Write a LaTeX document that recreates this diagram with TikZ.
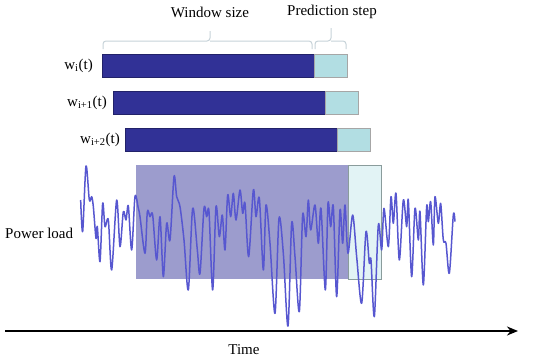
\documentclass[tikz,border=0pt]{standalone}
\usepackage{fontspec}
\setmainfont{Liberation Serif}
\usepackage{xcolor}
\usetikzlibrary{arrows.meta,positioning}
\definecolor{winblue}{HTML}{313196}
\definecolor{predcyan}{HTML}{B2DEE3}
\definecolor{histlav}{HTML}{9C9CCD}
\definecolor{futcyan}{HTML}{E2F3F5}
\definecolor{loadblue}{HTML}{5757D0}
\definecolor{bracegray}{HTML}{C6D2D8}
\definecolor{boxgray}{HTML}{8A9C9C}
\tikzset{
  winbar/.style={
    rectangle, draw=winblue!70!black, fill=winblue,
    minimum width=212, minimum height=23, inner sep=0pt, outer sep=0pt
  },
  predbar/.style={
    rectangle, draw=gray!70, fill=predcyan,
    minimum width=33, minimum height=23, inner sep=0pt, outer sep=0pt
  },
  barlabel/.style={font=\fontsize{15}{17}\selectfont, inner sep=0pt},
  toplabel/.style={font=\fontsize{15}{17}\selectfont, inner sep=0pt},
  bracket/.style={draw=bracegray, line width=1pt, rounded corners=3pt},
  histbox/.style={
    rectangle, fill=histlav, inner sep=0pt, outer sep=0pt,
    minimum width=212, minimum height=114
  },
  futbox/.style={
    rectangle, draw=boxgray, fill=futcyan, inner sep=0pt, outer sep=0pt,
    minimum width=33, minimum height=114
  },
  loadline/.style={draw=loadblue, line width=1.5pt, line join=round},
  timearrow/.style={-{Stealth[length=11pt,width=9pt]}, line width=2.4pt},
}
\begin{document}
\begin{tikzpicture}[x=1pt,y=-1pt]
  \useasboundingbox (0,0) rectangle (550,359);

  % sliding windows
  \node[winbar, anchor=north west] (win1) at (102,54) {};
  \node[predbar, right=0pt of win1] (pred1) {};
  \node[winbar, anchor=north west] (win2) at (113,91) {};
  \node[predbar, right=0pt of win2] (pred2) {};
  \node[winbar, anchor=north west] (win3) at (125,128) {};
  \node[predbar, right=0pt of win3] (pred3) {};
  \node[barlabel, left=9pt of win1] (lab1) {w\textsubscript{i}(t)};
  \node[barlabel, left=6pt of win2] (lab2) {w\textsubscript{i+1}(t)};
  \node[barlabel, left=5pt of win3] (lab3) {w\textsubscript{i+2}(t)};

  % brackets and their labels
  \node[toplabel] (winsize) at (210,12) {Window size};
  \node[toplabel] (predstep) at (332,12) {Prediction step};
  \coordinate (wtip) at (210,31);
  \coordinate (ptip) at (331,28);
  \draw[bracket] ([shift={(1,-5)}]win1.north west) |- (wtip |- 0,41) -- (wtip);
  \draw[bracket] ([shift={(-2,-5)}]win1.north east) |- (wtip |- 0,41);
  \draw[bracket] ([shift={(1,-5)}]pred1.north west) |- (ptip |- 0,41) -- (ptip);
  \draw[bracket] ([shift={(-1,-5)}]pred1.north east) |- (ptip |- 0,41);

  % input and target spans on the series
  \node[histbox, anchor=north west] (hist) at (136,165) {};
  \node[futbox, right=0pt of hist] (fut) {};

  % power load series
  \begin{scope}[shift={(60,150)}, x=1/3pt, y=-1/3pt]
    \draw[loadline] plot[smooth, tension=0.5] coordinates {
      (62,150) (68,245) (78,48) (88,150) (95,140) (100,170) (108,265)
      (112,230) (120,335) (128,160) (135,230) (145,210) (155,360) (170,150)
      (180,290) (190,185) (198,210) (205,168) (215,300) (225,140) (235,175)
      (240,200) (255,310) (262,185) (270,200) (278,195) (290,330) (300,200)
      (310,380) (320,220) (330,270) (342,80) (350,140) (360,170) (372,270)
      (385,420) (398,175) (412,300) (420,370) (432,175) (440,200) (447,185)
      (458,420) (468,170) (478,260) (487,195) (495,300) (503,135) (512,200)
      (520,130) (528,210) (540,120) (548,190) (555,160) (566,320) (580,120)
      (588,200) (598,145) (610,360) (618,165) (630,280) (645,490) (657,205)
      (670,310) (684,528) (695,220) (705,320) (718,485) (728,195) (738,260)
      (745,150) (752,240) (765,165) (775,280) (783,175) (796,420) (804,160)
      (812,230) (820,170) (830,440) (840,180) (848,280) (855,165) (864,310)
      (878,195) (890,320) (905,460) (918,245) (928,340) (933,330) (943,500)
      (955,225) (965,300) (972,175) (985,290) (993,140) (1000,220) (1008,130)
      (1018,330) (1030,150) (1040,230) (1045,150) (1055,380) (1065,175)
      (1075,270) (1080,185) (1090,405) (1100,170) (1105,215) (1112,155)
      (1120,285) (1125,140) (1135,220) (1142,160) (1150,270) (1158,280)
      (1168,370) (1180,195) (1185,215)
    };
  \end{scope}
  \node[barlabel, anchor=west] (load) at (5,233) {Power load};

  % time axis
  \coordinate (t0) at (5,331);
  \coordinate (t1) at (518,331);
  \draw[timearrow] (t0) -- (t1);
  \node[barlabel] (time) at (244,350) {Time};
\end{tikzpicture}
\end{document}
